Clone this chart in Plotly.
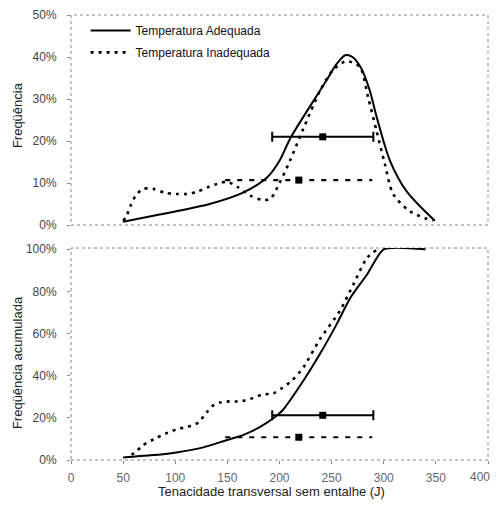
import plotly.graph_objects as go

# ---------------- data ----------------
# Frequency (top panel)
x_ade_freq = [50, 85, 133, 165, 188, 200, 210, 226, 245, 255, 263, 270, 278, 286, 294, 306, 322, 349]
y_ade_freq = [0.8, 2.5, 5.0, 7.7, 11.3, 15.3, 20.5, 27.0, 34.4, 38.4, 40.4, 40.0, 37.5, 32.5, 25.0, 15.3, 8.0, 1.0]

x_ina_freq = [50, 53, 57, 62, 69, 79, 90, 101, 111, 121, 131, 143, 150, 160, 172, 183, 191, 200,
              210, 223, 239, 251, 264, 277, 285, 293, 301, 309, 325, 347]
y_ina_freq = [1.0, 2.0, 4.5, 7.0, 8.6, 8.6, 7.7, 7.4, 7.4, 7.9, 9.0, 10.0, 10.3, 9.0, 7.0, 6.0, 6.2, 10.0,
              15.3, 23.0, 32.0, 36.8, 39.0, 37.6, 30.4, 22.5, 14.6, 7.4, 3.3, 1.0]

# Cumulative frequency (bottom panel)
x_ade_cum = [50, 76, 101, 127, 149, 165, 181, 194, 203, 223, 239, 255, 268, 284, 300, 340]
y_ade_cum = [1.2, 2.2, 3.6, 6.0, 9.4, 11.8, 15.6, 19.8, 23.6, 37.7, 50.5, 64.6, 77.0, 88.0, 100.0, 100.0]

x_ina_cum = [58, 62, 69, 82, 93, 103, 112, 122, 130, 136, 143, 152, 162, 172, 183, 194, 202,
             212, 223, 239, 258, 271, 284, 294]
y_ina_cum = [2.5, 3.8, 7.0, 10.5, 13.0, 14.8, 15.8, 17.7, 22.5, 25.8, 27.3, 27.8, 27.8, 29.0, 31.0, 31.6, 34.0,
             37.7, 44.0, 57.5, 70.8, 83.5, 96.0, 100.0]

# Mean +/- standard deviation markers
ade_mean, ade_sd = 241.5, 48.5
ina_mean, ina_sd = 218.5, 70.5
ade_bar_y_freq, ina_bar_y_freq = 21.0, 10.7
ade_bar_y_cum, ina_bar_y_cum = 21.2, 10.8

names = ["Temperatura Adequada", "Temperatura Inadequada"]
x_ticks = [0, 50, 100, 150, 200, 250, 300, 350, 400]
x_tick_labels = ["0", "50", "100", "150", "200", "250", "300", "350", "400"]
y_ticks_freq = [0, 10, 20, 30, 40, 50]
y_ticks_cum = [0, 20, 40, 60, 80, 100]
y_title_freq = "Freqüência"
y_title_cum = "Freqüência acumulada"
x_title = "Tenacidade transversal sem entalhe (J)"

# ---------------- figure ----------------
FONT = "Arial, 'Liberation Sans', sans-serif"
DOT = "3px,5px"

fig = go.Figure()

# top panel curves
fig.add_trace(go.Scatter(x=x_ade_freq, y=y_ade_freq, mode="lines", name=names[0], legendgroup="a",
                         line=dict(color="black", width=2, shape="spline", smoothing=0.8),
                         xaxis="x", yaxis="y"))
fig.add_trace(go.Scatter(x=x_ina_freq, y=y_ina_freq, mode="lines", name=names[1], legendgroup="b",
                         line=dict(color="black", width=2.6, dash=DOT, shape="spline", smoothing=0.8),
                         xaxis="x", yaxis="y"))

# bottom panel curves
fig.add_trace(go.Scatter(x=x_ade_cum, y=y_ade_cum, mode="lines", showlegend=False,
                         line=dict(color="black", width=2, shape="spline", smoothing=0.6),
                         xaxis="x2", yaxis="y2"))
fig.add_trace(go.Scatter(x=x_ina_cum, y=y_ina_cum, mode="lines", showlegend=False,
                         line=dict(color="black", width=2.6, dash=DOT, shape="spline", smoothing=0.6),
                         xaxis="x2", yaxis="y2"))

# mean +/- sd bars
for xa, ya, ya_y, yi_y in [("x", "y", ade_bar_y_freq, ina_bar_y_freq),
                           ("x2", "y2", ade_bar_y_cum, ina_bar_y_cum)]:
    # Inadequada: dashed range
    fig.add_trace(go.Scatter(x=[ina_mean - ina_sd, ina_mean + ina_sd], y=[yi_y, yi_y], mode="lines",
                             showlegend=False, line=dict(color="black", width=2.2, dash="5px,7px"),
                             xaxis=xa, yaxis=ya))
    fig.add_trace(go.Scatter(x=[ina_mean], y=[yi_y], mode="markers", showlegend=False,
                             marker=dict(symbol="square", size=7, color="black"),
                             xaxis=xa, yaxis=ya))
    # Adequada: solid range with caps
    fig.add_trace(go.Scatter(x=[ade_mean], y=[ya_y], mode="markers", showlegend=False,
                             marker=dict(symbol="square", size=7, color="black"),
                             error_x=dict(type="data", array=[ade_sd], symmetric=True,
                                          color="black", thickness=2, width=5),
                             xaxis=xa, yaxis=ya))

tick_font_y = dict(family=FONT, size=12, color="#444")
tick_font_x = dict(family=FONT, size=12, color="#666")
base = dict(showgrid=False, zeroline=False, showline=False, automargin=False)

# the page adds an 8px body margin; size the figure so that it fits the window without scrolling
fig.update_layout(
    width=492, height=491,
    margin=dict(l=63, r=12, t=7, b=39),
    paper_bgcolor="white", plot_bgcolor="white",
    font=dict(family=FONT, color="#222"),
    showlegend=True,
    legend=dict(x=0.035, y=0.998, xanchor="left", yanchor="top",
                bgcolor="rgba(0,0,0,0)", font=dict(family=FONT, size=12, color="#111"),
                itemwidth=40, tracegroupgap=3),
    xaxis=dict(domain=[0, 1], range=[0, 400], anchor="y", showticklabels=False, ticks="", **base),
    yaxis=dict(domain=[0.528, 1], range=[0, 50], anchor="x", tickvals=y_ticks_freq,
               ticktext=[f"{v}%" for v in y_ticks_freq], ticks="outside", ticklen=3,
               tickcolor="#888", ticklabelstandoff=8, tickfont=tick_font_y, **base),
    # last x tick label is drawn as an annotation so that it stays inside the visible window
    xaxis2=dict(domain=[0, 1], range=[0, 400], anchor="y2", tickvals=x_ticks,
                ticktext=x_tick_labels[:-1] + [""],
                ticks="outside", ticklen=3, tickcolor="#888", ticklabelstandoff=4,
                ticklabeloverflow="allow", tickfont=tick_font_x, **base),
    yaxis2=dict(domain=[0, 0.4764], range=[0, 100.6], anchor="x2", tickvals=y_ticks_cum,
                ticktext=[f"{v}%" for v in y_ticks_cum], ticks="outside", ticklen=3,
                tickcolor="#888", ticklabelstandoff=8, tickfont=tick_font_y, **base),
)

fig.add_annotation(text=x_tick_labels[-1], xref="x2", yref="y2 domain", x=x_ticks[-1], y=0,
                   xanchor="right", yanchor="top", xshift=4, yshift=-8, showarrow=False,
                   font=tick_font_x)

# axis titles
title_font = dict(family=FONT, size=13, color="#222")
fig.add_annotation(text=y_title_freq, xref="paper", yref="paper", x=-0.1295, y=0.775,
                   textangle=-90, showarrow=False, xanchor="center", yanchor="middle", font=title_font)
fig.add_annotation(text=y_title_cum, xref="paper", yref="paper", x=-0.1295, y=0.22,
                   textangle=-90, showarrow=False, xanchor="center", yanchor="middle", font=title_font)
fig.add_annotation(text=x_title, xref="paper", yref="paper", x=0.482, y=-0.0697,
                   showarrow=False, xanchor="center", yanchor="middle", font=title_font)

# dotted frames around both panels
for xr, yr in [("x domain", "y domain"), ("x2 domain", "y2 domain")]:
    fig.add_shape(type="rect", xref=xr, yref=yr, x0=0, x1=1, y0=0, y1=1,
                  line=dict(color="#888", width=1, dash="dot"), layer="below")

fig.write_html("out.html")
